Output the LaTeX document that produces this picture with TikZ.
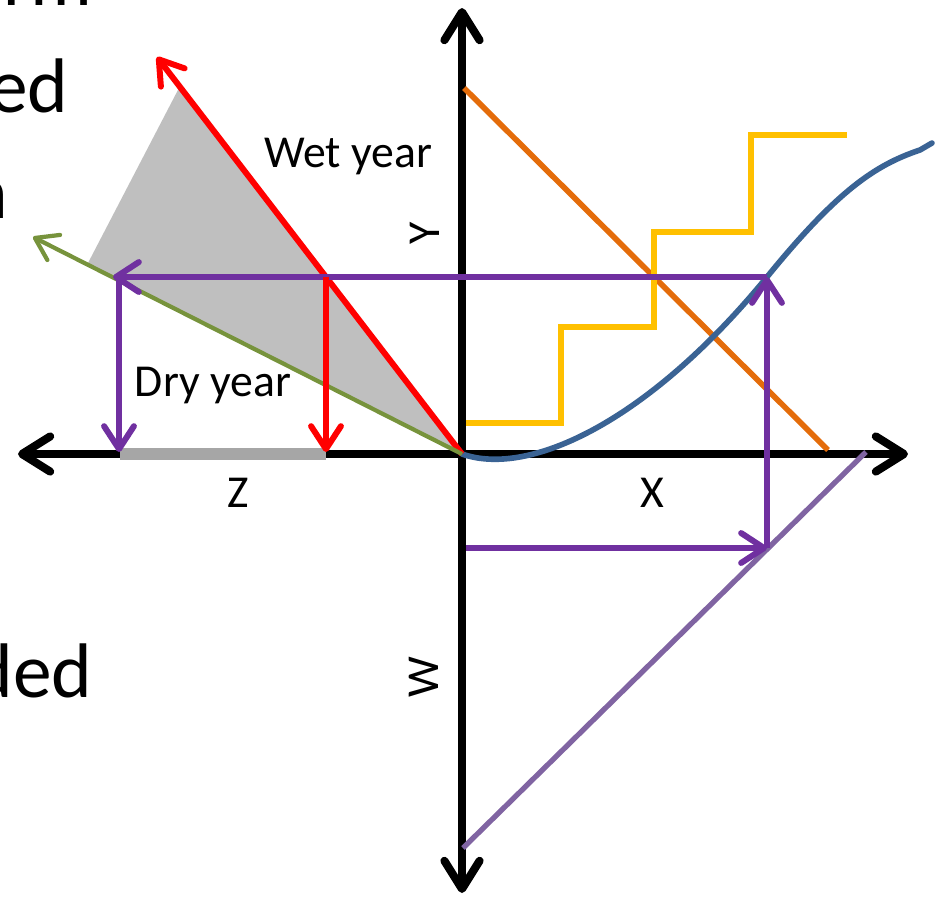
\documentclass[tikz,border=0pt]{standalone}
\usepackage{fontspec}
\setmainfont{Carlito}
\usetikzlibrary{arrows.meta}
\definecolor{cred}{HTML}{FF0000}
\definecolor{cgreen}{HTML}{77933C}
\definecolor{cfill}{HTML}{BFBFBF}
\definecolor{cseg}{HTML}{A6A6A6}
\definecolor{cpurple}{HTML}{7030A0}
\definecolor{corange}{HTML}{E46C0A}
\definecolor{cyellow}{HTML}{FFC000}
\definecolor{cblue}{HTML}{3A6394}
\definecolor{clav}{HTML}{8064A2}
\tikzset{
  axis/.style={line width=2.3pt,-{Straight Barb[length=8pt,width=10pt,round]}},
  parr/.style={line width=1.7pt,cpurple,-{Straight Barb[length=6.5pt,width=8.5pt,round]}},
  rarr/.style={line width=1.7pt,cred,-{Straight Barb[length=6.5pt,width=8.5pt,round]}},
  lbl/.style={font=\fontsize{13pt}{15pt}\selectfont,inner sep=0pt},
  big/.style={font=\fontsize{22pt}{26pt}\selectfont,inner sep=0pt,anchor=base east},
}
\begin{document}
\begin{tikzpicture}[x=0.01cm,y=-0.01cm]
\useasboundingbox (0,0) rectangle (938,899);
\clip (0,0) rectangle (938,899);
% clipped slide text at left
\node[big] (t1) at (93,5) {form};
\node[big] (t2) at (69,112) {ed};
\node[big] (t3) at (9,218) {n};
\node[big] (t4) at (93,697) {ded};
% coordinates
\coordinate (O) at (462,454);
\coordinate (G) at (88,263);
\coordinate (R) at (179,88);
\coordinate (Rtip) at (157,57);
\coordinate (Gtip) at (33,237);
\coordinate (P1) at (326,277);
\coordinate (P2) at (119,277);
\coordinate (C) at (767,277);
\coordinate (Wp) at (767,548);
% gray wedge
\fill[cfill] (O) -- (G) -- (R) -- cycle;
% axes
\draw[axis] (O) -- (908,454);
\draw[axis] (O) -- (18,454);
\draw[axis] (O) -- (462,8);
\draw[axis] (O) -- (462,893);
% gray segment on Z axis
\draw[cseg,line width=3.2pt] (120,454) -- (326,454);
% orange line
\draw[corange,line width=1.6pt] (464,88) -- (828,450);
% yellow steps
\draw[cyellow,line width=1.6pt] (466,423) -- (561,423) -- (561,327) -- (654,327) -- (654,232) -- (751,232) -- (751,135) -- (847,135);
% blue curve
\draw[cblue,line width=1.6pt,line cap=round,line join=round] (O) .. controls (530,478) and (650,420) .. (C) .. controls (837,191) and (875,165) .. (920,150) -- (932,143);
% lavender line
\draw[clav,line width=1.5pt] (463,848) -- (866,452);
% red and green lines
\draw[rarr] (O) -- (Rtip);
\draw[cgreen,line width=1.2pt,-{Straight Barb[length=6pt,width=8pt,round]}] (O) -- (Gtip);
% purple path
\draw[parr] (466,548) -- (Wp);
\draw[parr] (Wp) -- (C);
\draw[parr] (C) -- (113,277);
\draw[parr] (P2) -- (119,452);
\draw[rarr] (P1) -- (326,452);
% labels
\node[lbl] (wet) at (348,157) {Wet year};
\node[lbl] (dry) at (213,386) {Dry year};
\node[lbl,rotate=90] (ly) at (425,233) {Y};
\node[lbl,rotate=90] (lw) at (424,677) {W};
\node[lbl] (lz) at (238,493) {Z};
\node[lbl] (lx) at (652,493) {X};
\end{tikzpicture}
\end{document}
